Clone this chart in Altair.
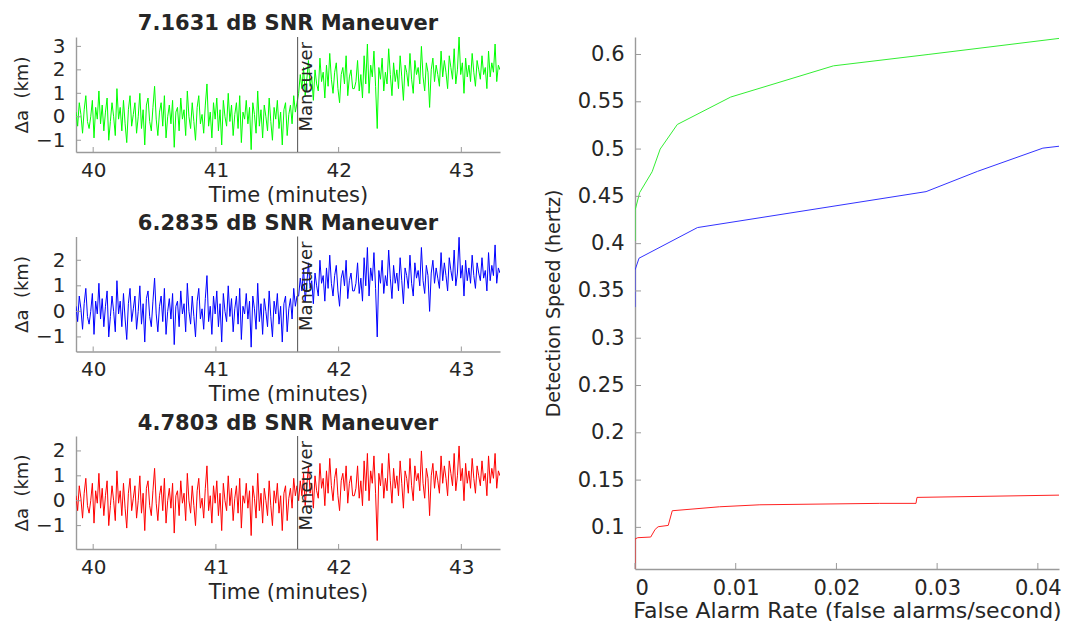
import altair as alt
import numpy as np
import pandas as pd

FONT = "DejaVu Sans"
TXT = "#262626"
AX = "#9a9a9a"

# ---------------- left panels: semi-major axis residuals (values in 0.1 km) ----------------
T_START, T_END = 39.86, 43.315
MANEUVER_T = 41.666
x_ticks_left = [40, 41, 42, 43]

# before the maneuver the three panels show the same residual trace
pre_maneuver_dkm = [
    2, -4, 6, 1, -7, 3, 9, -2,
    -5, 0, 7, -9, 4, -1, 11, -3,
    5, -6, 2, 8, -10, -2, 6, 0,
    -8, 12, -1, 4, -6, 7, -3, -11,
    3, 9, -4, 1, 6, -7, 0, 10,
    -5, 3, -12, 5, 8, -2, -6, 4,
    13, -1, -8, 2, 6, -4, 9, -9,
    0, 5, -3, 7, -13, 2, 4, -6,
    8, -1, 3, -8, 11, 0, -5, 6,
    -2, -10, 4, 9, -3, 1, -7, 5,
    14, -4, 2, -9, 6, -1, 8, -6,
    3, -12, 7, 0, -4, 10, -2, 5,
    -8, 1, 6, -5, 9, -11, 2, -1,
    7, -3, 4, -14, 6, 1, -7, 11,
    -4, 3, -9, 5, 0, -6, 8, -2,
    -10, 4, -1, 7, -5, 2, -12, 3,
    6, -8, 1, 5, -3, 9, 2, 6]

green_post_dkm = [
    10, 18, 12, 21, 9, 16, 24, 13,
    17, 7, 20, 14, 11, 25, 15, 19,
    8, 22, 13, 27, 16, 10, 19, 23,
    12, 6, 18, 21, 14, 26, 9, 17,
    20, 12, 12, 15, 24, 11, 18, 8,
    26, 14, 31, 10, 22, 17, 28, 13,
    -5, 21, 16, 25, 11, 19, 14, 29,
    18, 9, 23, 15, 20, 12, 26, 17,
    7, 22, 19, 13, 27, 16, 10, 24,
    18, 21, 14, 30, 17, 11, 23, 19,
    4, 20, 25, 15, 22, 18, 13, 28,
    17, 24, 19, 12, 26, 21, 16, 29,
    14, 20, 34, 18, 23, 10, 25, 17,
    22, 15, 27, 19, 13, 24, 20, 16,
    26, 18, 21, 12, 28, 17, 23, 19,
    31, 15, 22, 20]

blue_post_dkm = [
    6, 13, 8, 17, 4, 11, 19, 9,
    12, 3, 15, 10, 6, 20, 11, 14,
    4, 17, 9, 22, 11, 6, 14, 18,
    8, 2, 13, 16, 10, 20, 5, 12,
    15, 8, 8, 11, 19, 7, 13, 4,
    21, 10, 25, 6, 17, 12, 23, 9,
    -10, 16, 11, 20, 7, 14, 10, 24,
    13, 5, 18, 11, 15, 8, 21, 12,
    3, 17, 14, 9, 22, 11, 6, 19,
    13, 16, 10, 25, 12, 7, 18, 14,
    0, 15, 20, 11, 17, 13, 9, 23,
    12, 19, 14, 8, 21, 16, 12, 24,
    10, 15, 29, 13, 18, 6, 20, 12,
    17, 11, 22, 14, 9, 19, 15, 12,
    21, 13, 16, 8, 23, 12, 18, 14,
    26, 11, 17, 15]

red_post_dkm = [
    0, 8, 2, 11, -2, 6, 14, 3,
    7, -3, 10, 4, 1, 15, 5, 9,
    -2, 12, 3, 17, 6, 0, 9, 13,
    2, -4, 8, 11, 4, 14, -1, 7,
    10, 2, 2, 5, 14, 1, 8, -2,
    16, 4, 19, 0, 12, 7, 18, 3,
    -16, 11, 6, 15, 1, 9, 4, 19,
    8, -1, 13, 5, 10, 2, 16, 7,
    -3, 12, 9, 3, 17, 6, 0, 14,
    8, 11, 4, 20, 7, 1, 13, 9,
    -6, 10, 15, 5, 12, 8, 3, 18,
    7, 14, 9, 2, 16, 11, 6, 19,
    4, 10, 22, 8, 13, 0, 15, 7,
    12, 5, 17, 9, 3, 14, 10, 6,
    16, 8, 11, 2, 18, 7, 13, 9,
    19, 5, 12, 10]

panels = [
    ("7.1631 dB SNR Maneuver", green_post_dkm, "#00ff00", [-1.5, 3.4], [-1, 0, 1, 2, 3], 115),
    ("6.2835 dB SNR Maneuver", blue_post_dkm, "#0000ff", [-1.57, 2.93], [-1, 0, 1, 2], 115),
    ("4.7803 dB SNR Maneuver", red_post_dkm, "#ff0000", [-1.94, 2.6], [-1, 0, 1, 2], 113),
]

# ---------------- right panel: detection speed vs false alarm rate ----------------
green_far = [0.0, 0.0, 0.00046, 0.0017, 0.0025, 0.0042, 0.0095, 0.0197, 0.0291, 0.0421]
green_spd = [0.403, 0.435, 0.454, 0.476, 0.500, 0.526, 0.555, 0.588, 0.600, 0.617]
blue_far = [0.0, 0.0, 0.0004, 0.0062, 0.0289, 0.034, 0.0405, 0.0421]
blue_spd = [0.333, 0.372, 0.3846, 0.417, 0.455, 0.4764, 0.501, 0.503]
red_far = [0.0, 0.0, 0.00027, 0.00156, 0.0020, 0.0023, 0.0033, 0.0037, 0.0084, 0.0124, 0.0243, 0.0279, 0.0280, 0.0421]
red_spd = [0.056, 0.0877, 0.0891, 0.0898, 0.0979, 0.1007, 0.1021, 0.1176, 0.1218, 0.1239, 0.1254, 0.1254, 0.1317, 0.1341]
right_x_ticks = [0, 0.01, 0.02, 0.03, 0.04]
right_y_ticks = [0.1, 0.15, 0.2, 0.25, 0.3, 0.35, 0.4, 0.45, 0.5, 0.55, 0.6]
RIGHT_X_DOM = [0, 0.0421]
RIGHT_Y_DOM = [0.056, 0.6185]

W = 424


def noise_panel(title, post, color, ydom, yticks, height):
    vals = [v / 10 for v in pre_maneuver_dkm + post]
    t = np.linspace(T_START, T_END, len(vals))
    df = pd.DataFrame({"t": t, "v": vals})
    xs = alt.Scale(domain=[T_START, T_END], nice=False, zero=False)
    ys = alt.Scale(domain=ydom, nice=False, zero=False)
    xax = alt.Axis(values=x_ticks_left, title="Time (minutes)", ticks=False, tickSize=0,
                   labelFontSize=20, titleFontSize=21, labelPadding=8, titlePadding=4, grid=False)
    yax = alt.Axis(values=yticks, title="Δa\u00a0 (km)", ticks=False, tickSize=0,
                   labelFontSize=20, titleFontSize=18, labelPadding=11, titlePadding=4, grid=False)
    X = alt.X("t:Q", scale=xs, axis=xax)
    Y = alt.Y("v:Q", scale=ys, axis=yax)
    line = alt.Chart(df).mark_line(color=color, strokeWidth=1.0, clip=True).encode(x=X, y=Y)
    mdf = pd.DataFrame({"t": [MANEUVER_T], "label": ["Maneuver"]})
    rule = alt.Chart(mdf).mark_rule(color="#505050", strokeWidth=1).encode(
        x=X, y=alt.value(0), y2=alt.value(height))
    text = alt.Chart(mdf).mark_text(angle=270, align="right", baseline="top",
                                    fontSize=18, font=FONT, color=TXT).encode(
        x=X, y=alt.value(5), text="label:N")
    xt = alt.Chart(pd.DataFrame({"t": x_ticks_left})).mark_rule(color=AX, strokeWidth=1).encode(
        x=X, y=alt.value(height), y2=alt.value(height - 5))
    yt = alt.Chart(pd.DataFrame({"v": yticks})).mark_rule(color=AX, strokeWidth=1).encode(
        y=Y, x=alt.value(0), x2=alt.value(5))
    return alt.layer(line, rule, text, xt, yt).properties(
        width=W, height=height,
        title=alt.TitleParams(title, fontSize=21, fontWeight="bold", font=FONT, color=TXT, offset=2))


left = alt.vconcat(*[noise_panel(*p) for p in panels], spacing=84.5, bounds="flush")

rows = []
for name, xs_, ys_ in [("g", green_far, green_spd), ("b", blue_far, blue_spd), ("r", red_far, red_spd)]:
    for i, (a, b) in enumerate(zip(xs_, ys_)):
        rows.append({"s": name, "i": i, "far": a, "spd": b})
rdf = pd.DataFrame(rows)
RH = 532
rxs = alt.Scale(domain=RIGHT_X_DOM, nice=False, zero=False)
rys = alt.Scale(domain=RIGHT_Y_DOM, nice=False, zero=False)
rxax = alt.Axis(values=right_x_ticks, format="~g", title="False Alarm Rate (false alarms/second)",
                ticks=False, tickSize=0, labelFontSize=21, titleFontSize=22, labelPadding=8,
                titlePadding=2, grid=False)
ryax = alt.Axis(values=right_y_ticks, format="~g", title="Detection Speed (hertz)",
                ticks=False, tickSize=0, labelFontSize=21, titleFontSize=19, labelPadding=11,
                titlePadding=14, grid=False)
RX = alt.X("far:Q", scale=rxs, axis=rxax)
RY = alt.Y("spd:Q", scale=rys, axis=ryax)
rlines = alt.Chart(rdf).mark_line(strokeWidth=1, clip=True).encode(
    x=RX, y=RY, order="i:Q", detail="s:N",
    color=alt.Color("s:N", scale=alt.Scale(domain=["g", "b", "r"], range=["#33ee33", "#3333ff", "#ff2222"]), legend=None))
rxt = alt.Chart(pd.DataFrame({"far": right_x_ticks})).mark_rule(color=AX).encode(
    x=RX, y=alt.value(RH), y2=alt.value(RH - 6))
ryt = alt.Chart(pd.DataFrame({"spd": right_y_ticks})).mark_rule(color=AX).encode(
    y=RY, x=alt.value(0), x2=alt.value(6))
right_panel = alt.layer(rlines, rxt, ryt).properties(width=W, height=RH)

chart = alt.hconcat(left, right_panel, spacing=44).properties(
    padding={"left": 13, "top": 13, "right": 0, "bottom": 0},
    background="white",
).configure_view(stroke=None).configure_axis(
    domainColor=AX, domainWidth=1.4, labelColor=TXT, titleColor=TXT,
    labelFont=FONT, titleFont=FONT, titleFontWeight="normal",
).configure_text(font=FONT)

chart.save("out.html", embed_options={"renderer": "svg", "actions": False})
